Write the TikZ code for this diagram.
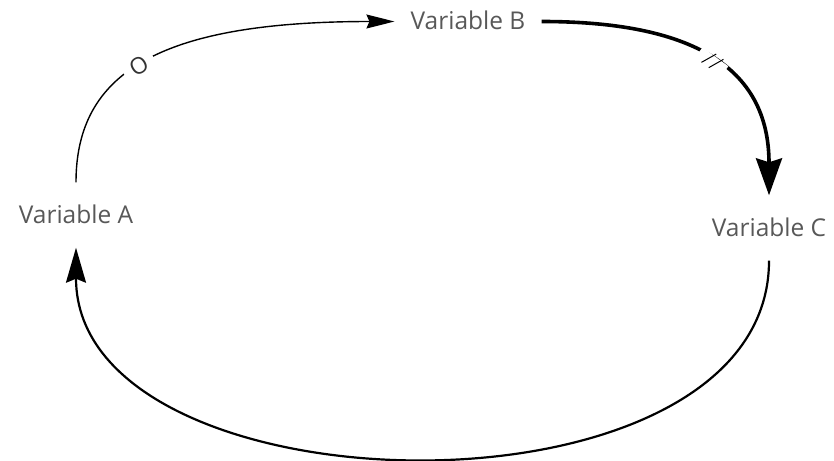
\documentclass[tikz,border=0pt]{standalone}
\usepackage{fontspec}
\setmainfont{Open Sans}
\usetikzlibrary{arrows.meta,decorations.markings}
\definecolor{cldtext}{RGB}{88,88,88}
\definecolor{cldline}{RGB}{0,0,0}
\tikzset{
  varnode/.style={font=\fontsize{24.5}{29}\selectfont, text=cldtext,
                  inner xsep=16pt, inner ysep=24pt, text height=17pt, text depth=0pt},
  cldlink/.style={draw=cldline, line width=#1},
  polmark/.style={font=\fontsize{23}{27}\selectfont, text=black!80, fill=white,
                  sloped, inner xsep=8pt, inner ysep=1pt},
  delaymark/.style={postaction=decorate, decoration={markings, mark=at position #1 with {
      \fill[white, arrows=-] (-16pt,-5pt) rectangle (16pt,5pt);
      \draw[cldline, arrows=-, line width=1pt] (-8pt,-7.7pt) -- (-1pt,7.7pt);
      \draw[cldline, arrows=-, line width=1pt] (1pt,-7.7pt) -- (8pt,7.7pt);}}},
}

\begin{document}
\begin{tikzpicture}[x=1pt, y=-1pt]
\useasboundingbox (0,0) rectangle (834,460);

% --- Variables ---
\node[varnode] (varA) at (76,215) {Variable A};
\node[varnode] (varB) at (468,21.5) {Variable B};
\node[varnode] (varC) at (769,228) {Variable C};

% --- A to B (opposite) ---
\draw[cldlink=1.4pt, -{Stealth[length=28pt, width=14pt, inset=3pt]}]
  (varA.north) .. controls +(0,-110) and +(-234,0) .. (varB.west)
  node[polmark, pos=0.47] (markO) {O};

% --- B to C (delay) ---
\draw[cldlink=3.6pt, -{Stealth[length=37pt, width=26pt, inset=4pt]}, delaymark=0.54]
  (varB.east) .. controls +(148,0) and +(0,-130) .. (varC.north);

% --- C back to A ---
\draw[cldlink=2.2pt, -{Stealth[length=35pt, width=20pt, inset=4pt]}]
  (varC.south) .. controls +(0,270) and +(0,270) .. (varA.south);

\end{tikzpicture}
\end{document}
